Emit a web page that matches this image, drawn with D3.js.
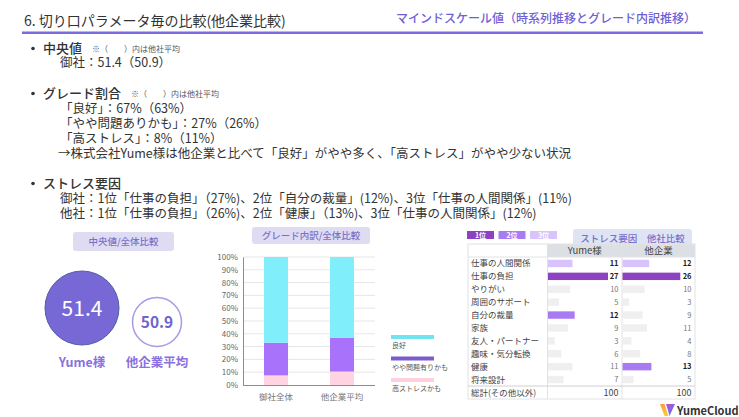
<!DOCTYPE html>
<html>
<head>
<meta charset="utf-8">
<script src="https://cdn.jsdelivr.net/npm/d3@7"></script>
<style>
  html, body { margin: 0; padding: 0; background: #ffffff; }
  svg { display: block; font-family: "Noto Sans CJK JP", "Noto Sans", sans-serif; }
</style>
</head>
<body>
<div id="chart"></div>
<script>
// 中央値
var medianNames = ['Yume様', '他企業平均'];
var medianValues = [51.4, 50.9];

// グレード内訳 (%)
var gradeCategories = ['御社全体', '他企業平均'];
var gradeKeys = ['高ストレスかも', 'やや問題有りかも', '良好'];
var gradeHigh = [7.5, 10.5];
var gradeMid = [25.5, 26.5];
var gradeGood = [67, 63];
var gradeTicks = [0, 10, 20, 30, 40, 50, 60, 70, 80, 90, 100];

// ストレス要因
var stressFactors = ['仕事の人間関係', '仕事の負担', 'やりがい', '周囲のサポート', '自分の裁量',
    '家族', '友人・パートナー', '趣味・気分転換', '健康', '将来設計'];
var stressYume = [11, 27, 10, 5, 12, 9, 3, 6, 11, 7];
var stressOther = [12, 26, 10, 3, 9, 11, 4, 8, 13, 5];
var rankYume = [3, 1, 0, 0, 2, 0, 0, 0, 0, 0];
var rankOther = [3, 1, 0, 0, 0, 0, 0, 0, 2, 0];
var stressColumns = ['Yume様', '他企業'];
var stressTotals = [100, 100];
var rankLabels = ['1位', '2位', '3位'];

var _width = 739;
var _height = 417;
var _font = '"Noto Sans CJK JP", "Noto Sans", sans-serif';

var svg = d3.select('#chart').append('svg')
    .attr('width', _width)
    .attr('height', _height);

svg.append('rect')
    .attr('width', _width)
    .attr('height', _height)
    .style('fill', '#ffffff');

function addText(g, x, y, str, size, color, anchor, weight) {
    return g.append('text')
        .attr('x', x)
        .attr('y', y)
        .attr('font-size', size)
        .attr('fill', color)
        .attr('text-anchor', anchor || 'start')
        .attr('font-weight', weight || 'normal')
        .text(str);
}

function labelBox(x, y, w, h, str, fill) {
    svg.append('rect')
        .attr('x', x).attr('y', y)
        .attr('width', w).attr('height', h)
        .attr('rx', 3)
        .style('fill', fill);
    addText(svg, x + w / 2, y + h / 2 + 3.5, str, 9.5, '#7b70c8', 'middle', 500);
}

// ヘッダー
addText(svg, 24, 26, '6. 切り口パラメータ毎の比較(他企業比較)', 14, '#333333');
addText(svg, 696, 23, 'マインドスケール値（時系列推移とグレード内訳推移）', 12, '#6f60d6', 'end', 500);
svg.append('rect')
    .attr('x', 22).attr('y', 31.5)
    .attr('width', 681).attr('height', 2.5)
    .style('fill', '#7a6be0');

// 箇条書き (見出し+本文を1つのtextにまとめる)
var note = '※（　　）内は他社平均';
var bullets = [
    {y: 53, head: '中央値', note: note, lines: [
        {y: 67, t: '御社：51.4（50.9）'}]},
    {y: 98, head: 'グレード割合', note: note, lines: [
        {y: 112.5, t: '「良好」：67%（63%）'},
        {y: 127.5, t: '「やや問題ありかも」：27%（26%）'},
        {y: 142.5, t: '「高ストレス」：8%（11%）'},
        {y: 157.5, t: '→株式会社Yume様は他企業と比べて「良好」がやや多く、「高ストレス」がやや少ない状況', x: 58}]},
    {y: 188, head: 'ストレス要因', lines: [
        {y: 202.5, t: '御社：1位「仕事の負担」（27%)、2位「自分の裁量」(12%)、3位「仕事の人間関係」(11%)'},
        {y: 217.5, t: '他社：1位「仕事の負担」（26%)、2位「健康」（13%)、3位「仕事の人間関係」(12%)'}]}
];
bullets.forEach(function(b) {
    svg.append('circle').attr('cx', 33).attr('cy', b.y - 4.5).attr('r', 1.8).style('fill', '#333');
    var t = svg.append('text').attr('fill', '#333333');
    t.append('tspan')
        .attr('x', 43).attr('y', b.y)
        .attr('font-size', 13).attr('font-weight', 500)
        .text(b.head);
    if (b.note) {
        t.append('tspan')
            .attr('dx', 10).attr('y', b.y - 1)
            .attr('font-size', 8).attr('fill', '#555555')
            .text(b.note);
    }
    b.lines.forEach(function(l) {
        t.append('tspan')
            .attr('x', l.x || 60).attr('y', l.y)
            .attr('font-size', 12.5)
            .text(l.t);
    });
});

// 中央値/全体比較
labelBox(73, 232, 101, 19, '中央値/全体比較', '#dedbf2');
var medX = d3.scalePoint().domain(medianNames).range([82, 157]);
var medR = [37, 24.5];
var medCY = [308, 322];
medianNames.forEach(function(n, i) {
    var cx = medX(n);
    if (i === 0) {
        svg.append('circle').attr('cx', cx).attr('cy', medCY[i]).attr('r', medR[i])
            .style('fill', '#7868d6').style('stroke', '#4f5fa8').style('stroke-width', 1);
        addText(svg, cx, medCY[i] + 7.5, medianValues[i].toFixed(1), 21, '#ffffff', 'middle');
    } else {
        svg.append('circle').attr('cx', cx).attr('cy', medCY[i]).attr('r', medR[i])
            .style('fill', '#ffffff').style('stroke', '#a99ae6').style('stroke-width', 1.5);
        addText(svg, cx, medCY[i] + 5.5, medianValues[i].toFixed(1), 15.5, '#7064d0', 'middle', 'bold');
    }
    addText(svg, cx, 367, n, 12.5, '#8a70e0', 'middle', 'bold');
});

// グレード内訳/全体比較
labelBox(252, 227, 118, 17, 'グレード内訳/全体比較', '#dedbf2');
var gx = d3.scaleBand().domain(gradeCategories).range([243, 375]).paddingInner(0.636).paddingOuter(0.318);
var gy = d3.scaleLinear().domain([0, 100]).range([385, 257]);
var gradeRows = gradeCategories.map(function(c, i) {
    var r = {cat: c};
    r[gradeKeys[0]] = gradeHigh[i];
    r[gradeKeys[1]] = gradeMid[i];
    r[gradeKeys[2]] = gradeGood[i];
    return r;
});
var gradeColor = d3.scaleOrdinal().domain(gradeKeys).range(['#ffd3e1', '#a873fa', '#80eefb']);
var stacked = d3.stack().keys(gradeKeys)(gradeRows);

var gGrid = svg.append('g');
gGrid.selectAll('line')
    .data(gradeTicks.slice(1))
    .join('line')
    .attr('x1', 243).attr('x2', 375)
    .attr('y1', function(d) { return gy(d); })
    .attr('y2', function(d) { return gy(d); })
    .style('stroke', '#e6e6e6').style('stroke-width', 1);

svg.append('g').selectAll('g')
    .data(stacked)
    .join('g')
    .style('fill', function(d) { return gradeColor(d.key); })
    .selectAll('rect')
    .data(function(d) { return d; })
    .join('rect')
    .attr('x', function(d) { return gx(d.data.cat); })
    .attr('width', gx.bandwidth())
    .attr('y', function(d) { return gy(d[1]); })
    .attr('height', function(d) { return gy(d[0]) - gy(d[1]); });

var yAxis = svg.append('g')
    .attr('transform', 'translate(243,0)')
    .call(d3.axisLeft(gy).tickValues(gradeTicks).tickSize(0).tickPadding(5)
        .tickFormat(function(d) { return d + '%'; }));
yAxis.select('.domain').style('stroke', '#8c8c8c');
yAxis.selectAll('text').attr('font-size', 8).attr('fill', '#666').attr('font-family', _font);

svg.append('line')
    .attr('x1', 243).attr('x2', 375).attr('y1', 385.5).attr('y2', 385.5)
    .style('stroke', '#8c8c8c');

var xAxis = svg.append('g')
    .attr('transform', 'translate(0,385)')
    .call(d3.axisBottom(gx).tickSize(0).tickPadding(9));
xAxis.select('.domain').remove();
xAxis.selectAll('text').attr('font-size', 8.5).attr('fill', '#777').attr('font-family', _font);

// 凡例
var legendY = d3.scalePoint().domain(gradeKeys.slice().reverse()).range([337, 380]);
var legendSwatch = {'良好': '#72e3f0', 'やや問題有りかも': '#7b5dcb', '高ストレスかも': '#ffd0df'};
gradeKeys.forEach(function(k) {
    var y = legendY(k);
    svg.append('rect').attr('x', 391).attr('y', y - 2).attr('width', 43).attr('height', 4)
        .style('fill', legendSwatch[k]);
    addText(svg, 392, y + 11, k, 7, '#555');
});

// ストレス要因 他社比較
labelBox(573, 229, 119, 18, 'ストレス要因　他社比較', '#dfe4f5');
var rankColor = {0: '#efefef', 1: '#8d42c2', 2: '#a87bf3', 3: '#d8c3fa'};
rankLabels.forEach(function(r, i) {
    var x = 467 + i * 31.5;
    svg.append('rect').attr('x', x).attr('y', 231).attr('width', 27).attr('height', 8)
        .style('fill', rankColor[i + 1]);
    addText(svg, x + 13.5, 237.8, r, 7, '#ffffff', 'middle', 'bold');
});

var tLeft = 468, tRight = 695, tTop = 244, tHead = 257, tBody = 386, tBottom = 399;
var colX = [547.5, 622];
var colW = [74.5, 73];
var rowY = d3.scaleBand().domain(stressFactors).range([tHead, tBody]);
var barX = d3.scaleLinear().domain([0, 27]).range([0, 60]);

var tbl = svg.append('g');
colX.forEach(function(x, i) {
    tbl.append('rect').attr('x', x).attr('y', tTop).attr('width', colW[i]).attr('height', tHead - tTop)
        .style('fill', '#dce0e5');
    addText(tbl, x + colW[i] / 2, tHead - 3, stressColumns[i], 9.5, '#444', 'middle');
});
// 罫線
tbl.append('rect').attr('x', tLeft).attr('y', tTop).attr('width', tRight - tLeft).attr('height', tBottom - tTop)
    .style('fill', 'none').style('stroke', '#e2e2e2');
[colX[0], colX[1]].forEach(function(x) {
    tbl.append('line').attr('x1', x).attr('x2', x).attr('y1', tTop).attr('y2', tBottom)
        .style('stroke', '#e2e2e2');
});
tbl.append('line').attr('x1', tLeft).attr('x2', tRight).attr('y1', tHead).attr('y2', tHead)
    .style('stroke', '#e2e2e2');
tbl.append('line').attr('x1', tLeft).attr('x2', tRight).attr('y1', tBody).attr('y2', tBody)
    .style('stroke', '#d0d0d0');

tbl.selectAll('text.rowlabel')
    .data(stressFactors)
    .join('text')
    .attr('class', 'rowlabel')
    .attr('x', 471)
    .attr('y', function(d) { return rowY(d) + rowY.bandwidth() / 2 + 3; })
    .attr('font-size', 8.5)
    .attr('fill', '#444')
    .text(function(d) { return d; });

[[stressYume, rankYume], [stressOther, rankOther]].forEach(function(col, ci) {
    var vals = col[0], ranks = col[1];
    var g = tbl.append('g');
    g.selectAll('rect')
        .data(vals)
        .join('rect')
        .attr('x', colX[ci] + 0.5)
        .attr('y', function(d, i) { return rowY(stressFactors[i]) + rowY.bandwidth() / 2 - 3.7; })
        .attr('width', function(d) { return barX(d); })
        .attr('height', 7.4)
        .style('fill', function(d, i) { return rankColor[ranks[i]]; });
    g.selectAll('text')
        .data(vals)
        .join('text')
        .attr('x', colX[ci] + colW[ci] - 3.5)
        .attr('y', function(d, i) { return rowY(stressFactors[i]) + rowY.bandwidth() / 2 + 2.8; })
        .attr('text-anchor', 'end')
        .attr('font-size', 7.5)
        .attr('font-weight', function(d, i) { return ranks[i] ? 'bold' : 'normal'; })
        .attr('fill', function(d, i) { return ranks[i] ? '#222' : '#777'; })
        .text(function(d) { return d; });
    addText(tbl, colX[ci] + colW[ci] - 3.5, tBody + 9.5, stressTotals[ci], 9, '#444', 'end');
});
addText(tbl, 471, tBody + 9.5, '総計(その他以外)', 8.5, '#444');

// ロゴ
var defs = svg.append('defs');
var lg1 = defs.append('linearGradient').attr('id', 'lg1').attr('x1', 0).attr('y1', 0).attr('x2', 0).attr('y2', 1);
lg1.append('stop').attr('offset', 0).attr('stop-color', '#ff9a3c');
lg1.append('stop').attr('offset', 1).attr('stop-color', '#f7d038');
var lg2 = defs.append('linearGradient').attr('id', 'lg2').attr('x1', 0).attr('y1', 0).attr('x2', 1).attr('y2', 1);
lg2.append('stop').attr('offset', 0).attr('stop-color', '#c04fd8');
lg2.append('stop').attr('offset', 1).attr('stop-color', '#4c7bf0');
var logo = svg.append('g').attr('transform', 'translate(660,404)');
logo.append('path').attr('d', 'M0,0 L4.5,0 L8.5,12 L4.5,12 Z').style('fill', 'url(#lg1)');
logo.append('path').attr('d', 'M6,0 L15,0 L9.5,12 L8,6.5 Z').style('fill', 'url(#lg2)');
addText(logo, 17, 10.5, 'YumeCloud', 11, '#333333', 'start', 600);
</script>
</body>
</html>
